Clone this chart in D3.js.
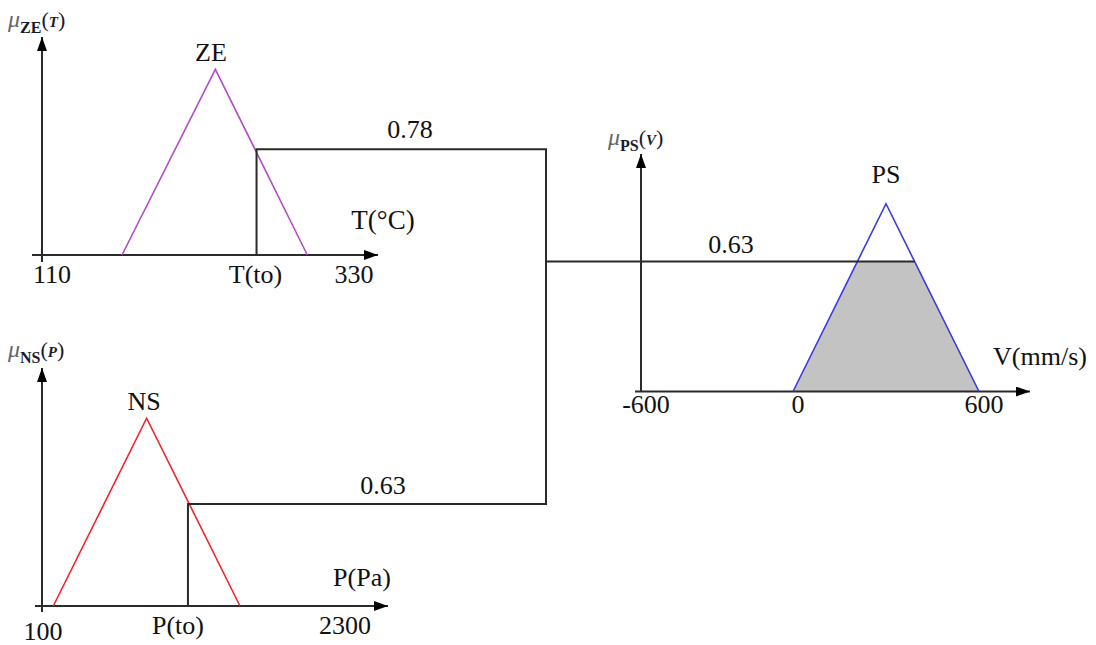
<!DOCTYPE html>
<html>
<head>
<meta charset="utf-8">
<script src="https://cdn.jsdelivr.net/npm/d3@7"></script>
<style>
  html, body { margin: 0; padding: 0; background: #fff; }
  svg { display: block; }
  text { font-family: "Liberation Serif", "Times New Roman", serif; fill: #111; }
</style>
</head>
<body>
<svg id="chart" width="1096" height="645"></svg>
<script>
// ---- fuzzy sets (support: left foot, peak, right foot) and membership peak heights ----
const zeSet = [161, 229, 296];      // temperature, °C
const zeHeight = [1.37];
const nsSet = [175, 855, 1535];     // pressure, Pa
const nsHeight = [1.16];
const psSet = [0, 300, 600];        // velocity, mm/s
const psHeight = [0.91];

// ---- crisp inputs and firing strengths ----
const inputT = [259];
const inputP = [1156];
const degreeT = [0.78];
const degreeP = [0.63];
const degreeOut = [0.63];

// ---- tick labels ----
const tTicks = [110, 330];
const pTicks = [100, 2300];
const vTicks = [-600, 0, 600];

const svg = d3.select("#chart");
const ink = "#2a2a2a";

// arrowhead marker
svg.append("defs").append("marker")
  .attr("id", "arrow")
  .attr("viewBox", "0 0 14 10")
  .attr("refX", 14).attr("refY", 5)
  .attr("markerWidth", 14).attr("markerHeight", 10)
  .attr("markerUnits", "userSpaceOnUse")
  .attr("orient", "auto")
  .append("path").attr("d", "M0,0 L14,5 L0,10 Z").attr("fill", "#000");

// ---- scales ----
const xT = d3.scaleLinear().domain(tTicks).range([52, 354]);
const yT = d3.scaleLinear().domain([0, 1]).range([255, 119.5]);
const xP = d3.scaleLinear().domain(pTicks).range([43, 345]);
const yP = d3.scaleLinear().domain([0, 1]).range([606, 444.1]);
const xV = d3.scaleLinear().domain(vTicks).range([641, 793, 979]);
const yV = d3.scaleLinear().domain([0, 1]).range([391.5, 185.2]);

const line = d3.line();

function axes(x0, y0, xStart, xEnd, yEnd, yBelow) {
  svg.append("line").attr("x1", xStart).attr("y1", y0).attr("x2", xEnd).attr("y2", y0)
    .attr("stroke", ink).attr("stroke-width", 2).attr("marker-end", "url(#arrow)");
  svg.append("line").attr("x1", x0).attr("y1", y0 + yBelow).attr("x2", x0).attr("y2", yEnd)
    .attr("stroke", ink).attr("stroke-width", 2).attr("marker-end", "url(#arrow)");
}

function triangle(set, h, xs, ys, color) {
  const pts = [[xs(set[0]), ys(0)], [xs(set[1]), ys(h)], [xs(set[2]), ys(0)]];
  svg.append("path").attr("d", line(pts)).attr("fill", "none")
    .attr("stroke", color).attr("stroke-width", 1.6);
}

function label(x, y, txt, size) {
  svg.append("text").attr("x", x).attr("y", y).attr("text-anchor", "middle")
    .attr("font-size", size || 26).text(txt);
}

function muLabel(x, y, sub, arg) {
  const t = svg.append("text").attr("x", x).attr("y", y);
  t.append("tspan").attr("font-size", 24).attr("font-style", "italic")
    .style("fill", "#666").text("\u03bc");
  t.append("tspan").attr("font-size", 16).attr("font-weight", "bold").attr("dy", 6)
    .style("fill", "#1a1a2e").text(sub);
  t.append("tspan").attr("font-size", 22).attr("dy", -6).style("fill", "#1a1a2e").text("(");
  t.append("tspan").attr("font-size", 15).attr("font-style", "italic").attr("font-weight", "bold")
    .style("fill", "#1a1a2e").text(arg);
  t.append("tspan").attr("font-size", 22).style("fill", "#1a1a2e").text(")");
}

// ---- temperature panel ----
axes(42, 255, 32, 378, 37, 7);
triangle(zeSet, zeHeight[0], xT, yT, "#b34cc6");
label(211, 61, "ZE");
label(383, 229, "T(\u00b0C)", 27);
label(xT(tTicks[0]), 283, tTicks[0]);
label(xT(tTicks[1]), 283, tTicks[1]);
label(xT(inputT[0]) - 1, 283, "T(to)");
muLabel(8, 27, "ZE", "T");

// ---- pressure panel ----
axes(42, 606, 35, 388, 368, 6);
triangle(nsSet, nsHeight[0], xP, yP, "#f0262b");
label(144, 410, "NS");
label(362, 586, "P(Pa)");
label(xP(pTicks[0]), 640, pTicks[0]);
label(xP(pTicks[1]), 634, pTicks[1]);
label(xP(inputP[0]) - 10, 634, "P(to)");
muLabel(8, 357, "NS", "P");

// ---- velocity panel: clipped output set ----
const cutL = psSet[0] + degreeOut[0] / psHeight[0] * (psSet[1] - psSet[0]);
const cutR = psSet[2] - degreeOut[0] / psHeight[0] * (psSet[2] - psSet[1]);
const clipped = [[psSet[0], 0], [cutL, degreeOut[0]], [cutR, degreeOut[0]], [psSet[2], 0]]
  .map(d => [xV(d[0]), yV(d[1])]);
svg.append("path").attr("d", line(clipped) + "Z").attr("fill", "#c3c3c3");

axes(641, 391.5, 635, 1030, 154, 0);
triangle(psSet, psHeight[0], xV, yV, "#3b3be0");
label(886, 183, "PS");
label(1040, 365, "V(mm/s)");
vTicks.forEach(v => label(xV(v) + 5, 413, v < 0 ? "-" + Math.abs(v) : v));
muLabel(608, 145, "PS", "V");

// ---- inference links: input cuts joined into the output cut ----
const joinX = 546;
const yCutT = yT(degreeT[0]);
const yCutP = yP(degreeP[0]);
const yCutV = yV(degreeOut[0]);

svg.append("path")
  .attr("d", line([[xT(inputT[0]), yT(0)], [xT(inputT[0]), yCutT], [joinX, yCutT], [joinX, yCutP], [xP(inputP[0]), yCutP], [xP(inputP[0]), yP(0)]]))
  .attr("fill", "none").attr("stroke", ink).attr("stroke-width", 2);
svg.append("path")
  .attr("d", line([[joinX, yCutV], [xV(cutR), yCutV]]))
  .attr("fill", "none").attr("stroke", ink).attr("stroke-width", 2);

label(410, 138, degreeT[0]);
label(383, 494, degreeP[0]);
label(731, 253, degreeOut[0]);
</script>
</body>
</html>
